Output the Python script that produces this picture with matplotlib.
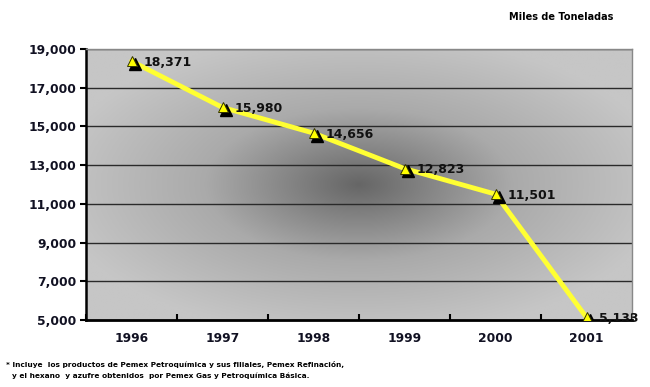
import numpy as np
import matplotlib
matplotlib.use("Agg")
import matplotlib.pyplot as plt
from matplotlib.colors import LinearSegmentedColormap

years = ["1996", "1997", "1998", "1999", "2000", "2001"]
values = [18371, 15980, 14656, 12823, 11501, 5133]
yticks = [5000, 7000, 9000, 11000, 13000, 15000, 17000, 19000]

fig = plt.figure(figsize=(6.5, 3.87), dpi=100)
ax = fig.add_axes([86/650, 1-320/387, (632-86)/650, (320-49)/387])

x = np.arange(len(years))
ax.set_xlim(-0.5, len(years)-0.5)
ax.set_ylim(5000, 19000)

# radial gradient background
nx, ny = 300, 160
gx, gy = np.meshgrid(np.linspace(-1, 1, nx), np.linspace(-1, 1, ny))
r = np.sqrt(gx**2 + gy**2) / np.sqrt(2)
cmap = LinearSegmentedColormap.from_list("g", ["#666666", "#aaaaaa", "#c6c6c6"])
ax.imshow(r, cmap=cmap, extent=[-0.5, len(years)-0.5, 5000, 19000],
          aspect="auto", zorder=0, vmin=0, vmax=0.8, interpolation="bilinear")

for t in yticks[1:]:
    ax.axhline(t, color="#2a2a2a", lw=1.0, zorder=1)

ax.plot(x, values, color="#ffff33", lw=3.5, zorder=3, solid_capstyle="round")
ax.plot(x + 0.035, np.array(values) - 140, linestyle="none", marker="^", ms=8,
        color="black", zorder=4)
ax.plot(x, values, linestyle="none", marker="^", ms=7.5, markerfacecolor="#ffff00",
        markeredgecolor="#333300", markeredgewidth=0.7, zorder=5)

for xi, v in zip(x, values):
    ax.annotate(f"{v:,}", (xi, v), xytext=(9, -1), textcoords="offset points",
                fontsize=9, fontweight="bold", va="center", ha="left", zorder=6,
                annotation_clip=False, color="#111111")

ax.set_yticks(yticks)
ax.set_yticklabels([f"{t:,}" for t in yticks], fontsize=8.8, fontweight="bold",
                   color="#111122")
ax.set_xticks(x)
ax.set_xticklabels(years, fontsize=8.8, fontweight="bold", color="#111122")
ax.set_xticks(np.arange(-0.5, len(years)), minor=True)
ax.tick_params(axis="x", which="major", length=0, pad=9)
ax.tick_params(axis="x", which="minor", length=4, direction="in", width=1.5)
ax.tick_params(axis="y", length=4, width=1.5, direction="out", pad=3)

for s in ["top", "right"]:
    ax.spines[s].set_color("#888888")
    ax.spines[s].set_linewidth(1.0)
ax.spines["left"].set_linewidth(1.8)
ax.spines["bottom"].set_linewidth(2.0)

fig.text(561/650, 1-17/387, "Miles de Toneladas", fontsize=7, fontweight="bold",
         ha="center", va="center")
fig.text(6/650, 1-365/387,
         "* Incluye  los productos de Pemex Petroquímica y sus filiales, Pemex Refinación,",
         fontsize=5.3, fontweight="bold", ha="left", va="center")
fig.text(12/650, 1-376/387,
         "y el hexano  y azufre obtenidos  por Pemex Gas y Petroquímica Básica.",
         fontsize=5.3, fontweight="bold", ha="left", va="center")

fig.savefig("out.png", dpi=100)
